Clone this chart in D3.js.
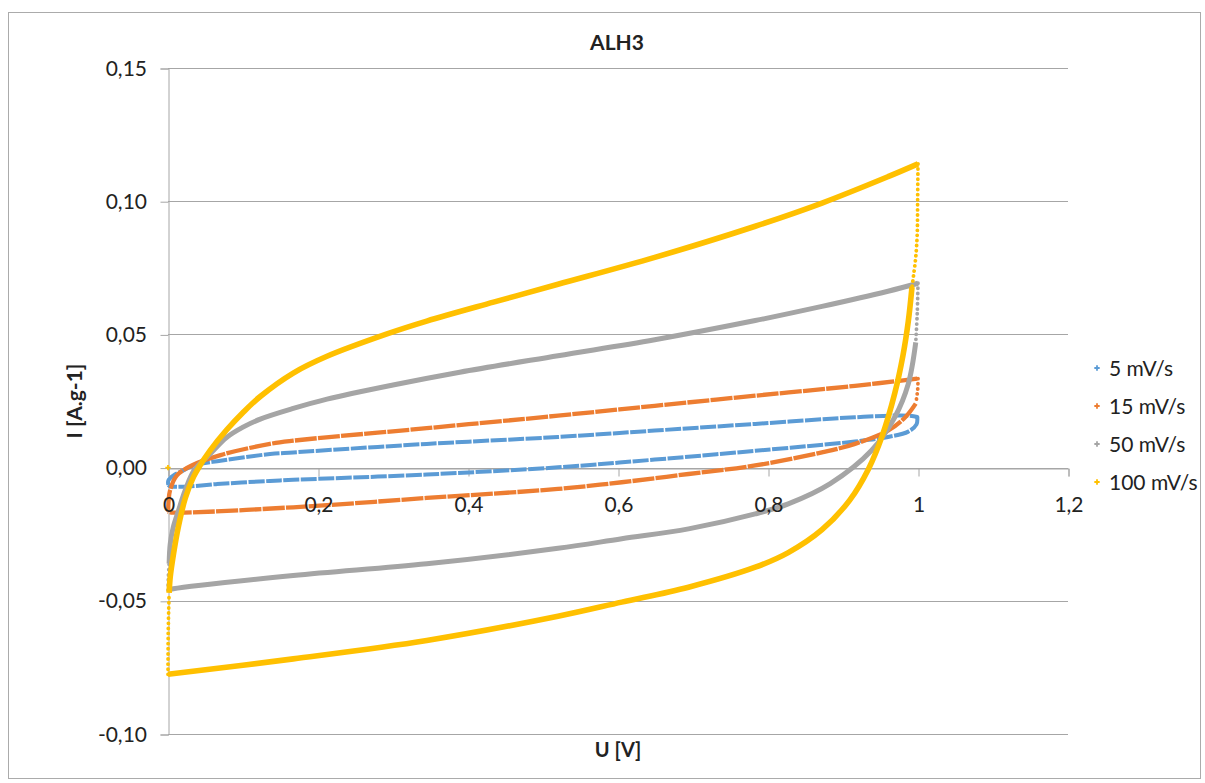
<!DOCTYPE html>
<html>
<head>
<meta charset="utf-8">
<script src="https://cdn.jsdelivr.net/npm/d3@7/dist/d3.min.js"></script>
<style>
  html, body { margin: 0; padding: 0; background: #fff; }
  svg { display: block; font-family: Lato, "Open Sans", sans-serif; }
</style>
</head>
<body>
<svg id="chart" width="1205" height="783"></svg>
<script>
// Cyclic voltammograms of ALH3 at four scan rates: [U (V), I (A/g)]
const seriesNames = ["5 mV/s", "15 mV/s", "50 mV/s", "100 mV/s"];

// 5 mV/s
const fwd5 = [[0.0004, -0.0065], [0.0004, -0.0049], [0.007, -0.003], [0.0204, -0.0011], [0.034, 0.0008],
  [0.07, 0.0026], [0.136, 0.0051], [0.167, 0.0057], [0.345, 0.0089], [0.520, 0.0115], [0.649, 0.0139],
  [0.783, 0.0164], [0.916, 0.0189], [0.987, 0.0195], [0.999, 0.0190]];
const rev5 = [[0.999, 0.0190], [0.998, 0.0162], [0.987, 0.0135], [0.960, 0.0115], [0.916, 0.0098],
  [0.783, 0.0063], [0.649, 0.0030], [0.520, 0.0001], [0.345, -0.0026], [0.167, -0.0046], [0.136, -0.0050],
  [0.065, -0.0062], [0.0204, -0.0072], [0.003, -0.0070], [0.0004, -0.0065]];

// 15 mV/s
const fwd15 = [[0.0003, -0.0165], [0.0008, -0.0124], [0.0027, -0.0086], [0.0116, -0.0030], [0.031, 0.0007],
  [0.070, 0.0047], [0.136, 0.0089], [0.167, 0.0101], [0.345, 0.0148], [0.520, 0.0195], [0.649, 0.0232],
  [0.783, 0.0270], [0.916, 0.0307], [1.0, 0.0334]];
const rev15 = [[0.997, 0.0240], [0.983, 0.0189], [0.960, 0.0139], [0.916, 0.0089], [0.872, 0.0057],
  [0.783, 0.0008], [0.694, -0.0024], [0.605, -0.0055], [0.520, -0.0080], [0.345, -0.0114], [0.167, -0.0149],
  [0.003, -0.0168], [0.0003, -0.0165]];

// 50 mV/s
const fwd50 = [[0.0015, -0.036], [0.003, -0.0286], [0.007, -0.0224], [0.014, -0.0161], [0.023, -0.0085],
  [0.035, -0.0010], [0.056, 0.0051], [0.078, 0.0113], [0.100, 0.0152], [0.123, 0.0182], [0.167, 0.0222],
  [0.212, 0.0257], [0.300, 0.0310], [0.389, 0.0358], [0.520, 0.0420], [0.649, 0.0480], [0.783, 0.0552],
  [0.872, 0.0605], [0.960, 0.0662], [1.0, 0.0692]];
const rev50 = [[0.997, 0.0470], [0.987, 0.0314], [0.969, 0.0189], [0.938, 0.0064], [0.883, -0.0060],
  [0.827, -0.0136], [0.783, -0.0174], [0.694, -0.0230], [0.605, -0.0267], [0.520, -0.0303], [0.345, -0.0361],
  [0.167, -0.0405], [0.007, -0.0455], [0.0, -0.0460]];

// 100 mV/s
const fwd100 = [[0.0015, -0.047], [0.003, -0.041], [0.007, -0.033], [0.014, -0.022], [0.023, -0.0115],
  [0.034, -0.0035], [0.042, 0.0005], [0.056, 0.0064], [0.078, 0.0141], [0.100, 0.0207], [0.123, 0.0267],
  [0.167, 0.0355], [0.212, 0.0418], [0.292, 0.0502], [0.345, 0.0550], [0.434, 0.0621], [0.520, 0.0688],
  [0.649, 0.0789], [0.783, 0.0906], [0.872, 0.0993], [0.960, 0.1092], [1.0, 0.1140]];
const rev100 = [[0.992, 0.0678], [0.987, 0.0548], [0.980, 0.0422], [0.969, 0.0279], [0.952, 0.0117],
  [0.934, -0.0005], [0.909, -0.0122], [0.872, -0.0233], [0.827, -0.0319], [0.783, -0.0374], [0.694, -0.0449],
  [0.605, -0.0505], [0.520, -0.0558], [0.345, -0.0649], [0.167, -0.0718], [0.0, -0.0776]];
const start100 = [[0.0, 0.0]];

// Fast current switching at the vertex potentials (few samples, shown as dots)
const switch15 = [[[1.0, 0.0334], [0.9995, 0.029], [0.997, 0.024]]];
const switch50 = [[[1.0, 0.0692], [0.999, 0.058], [0.997, 0.047]], [[0.0, -0.046], [0.0005, -0.041], [0.0015, -0.036]]];
const switch100 = [[[1.0, 0.1140], [0.9995, 0.100], [0.999, 0.088], [0.997, 0.079], [0.994, 0.072], [0.992, 0.0678]],
  [[0.0, -0.0776], [0.0003, -0.062], [0.0015, -0.047]]];

const xTicks = [0, 0.2, 0.4, 0.6, 0.8, 1.0, 1.2];
const xTickLabels = ["0", "0,2", "0,4", "0,6", "0,8", "1", "1,2"];
const yTicks = [-0.10, -0.05, 0.00, 0.05, 0.10, 0.15];
const yTickLabels = ["-0,10", "-0,05", "0,00", "0,05", "0,10", "0,15"];

const colors = ["#5B9BD5", "#ED7D31", "#A5A5A5", "#FFC000"];
const widths = [4.0, 4.3, 5.0, 5.6];
const dashes = ["16 1.5", "22 1.2", null, null];

const series = [
  { name: seriesNames[0], fwd: fwd5, rev: rev5, sw: [] },
  { name: seriesNames[1], fwd: fwd15, rev: rev15, sw: switch15 },
  { name: seriesNames[2], fwd: fwd50, rev: rev50, sw: switch50 },
  { name: seriesNames[3], fwd: fwd100, rev: rev100, sw: switch100, extra: start100 }
];

const svg = d3.select("#chart");
const plot = { left: 168, right: 1068, top: 68, bottom: 734 };

const x = d3.scaleLinear().domain([0, 1.2]).range([plot.left, plot.right]);
const y = d3.scaleLinear().domain([-0.10, 0.15]).range([plot.bottom, plot.top]);

// chart frame
svg.append("rect").attr("x", 8.5).attr("y", 12.5).attr("width", 1192).attr("height", 766)
  .attr("fill", "#fff").attr("stroke", "#ABABAB").attr("stroke-width", 1);

// horizontal gridlines
svg.append("g").selectAll("line").data(yTicks).join("line")
  .attr("x1", plot.left).attr("x2", plot.right)
  .attr("y1", d => Math.round(y(d)) + 0.5).attr("y2", d => Math.round(y(d)) + 0.5)
  .attr("stroke", "#A6A6A6").attr("stroke-width", 1);

// axis lines and tick marks
const yAxis = d3.axisLeft(y).tickValues(yTicks).tickSize(8).tickFormat((d, i) => yTickLabels[i]);
const xAxis = d3.axisBottom(x).tickValues(xTicks).tickSize(8).tickFormat((d, i) => xTickLabels[i]);

const gy = svg.append("g").attr("transform", `translate(${plot.left + 0.5},0.5)`).call(yAxis);
const gx = svg.append("g").attr("transform", `translate(0.5,${Math.round(y(0)) + 0.5})`).call(xAxis);
[gx, gy].forEach(g => {
  g.select(".domain").attr("stroke", "#A6A6A6");
  g.selectAll(".tick line").attr("stroke", "#A6A6A6");
  g.selectAll(".tick text").remove();
});

// series
const line = d3.line().x(d => x(d[0])).y(d => y(d[1])).curve(d3.curveCatmullRom.alpha(0.5));
const gs = svg.append("g");
series.forEach((s, i) => {
  const g = gs.append("g");
  [s.fwd, s.rev].forEach(arr => {
    g.append("path").attr("d", line(arr)).attr("fill", "none")
      .attr("stroke", colors[i]).attr("stroke-width", widths[i])
      .attr("stroke-dasharray", dashes[i])
      .attr("stroke-linejoin", "round");
  });
  // dense turn at the upper vertex when the switch is well sampled
  if (s.sw.length === 0) {
    g.append("path").attr("d", line([s.fwd[s.fwd.length - 1], s.rev[0]]))
      .attr("stroke", colors[i]).attr("stroke-width", widths[i]).attr("stroke-linecap", "round").attr("fill", "none");
  }
  s.sw.forEach(seg => {
    g.append("path").attr("d", line(seg)).attr("fill", "none")
      .attr("stroke", colors[i]).attr("stroke-width", 3.8)
      .attr("stroke-linecap", "round").attr("stroke-dasharray", "0.1 5");
  });
  if (s.extra) {
    g.selectAll("path.pt").data(s.extra).join("path").attr("class", "pt")
      .attr("transform", d => `translate(${x(d[0])},${y(d[1])})`)
      .attr("d", d3.symbol(d3.symbolCross, 16)).attr("fill", colors[i]);
  }
});

// tick labels
svg.append("g").selectAll("text").data(yTicks).join("text")
  .attr("x", 147).attr("y", d => y(d)).attr("dy", "0.36em")
  .attr("text-anchor", "end").attr("font-size", 21).attr("fill", "#222")
  .text((d, i) => yTickLabels[i]);
svg.append("g").selectAll("text").data(xTicks).join("text")
  .attr("x", d => x(d) + 1).attr("y", 512)
  .attr("text-anchor", "middle").attr("font-size", 21).attr("fill", "#222")
  .text((d, i) => xTickLabels[i]);

// titles
svg.append("text").attr("x", 617).attr("y", 50).attr("text-anchor", "middle")
  .attr("font-size", 21).attr("font-weight", "bold").attr("fill", "#222").text("ALH3");
svg.append("text").attr("x", 618).attr("y", 757).attr("text-anchor", "middle")
  .attr("font-size", 20).attr("font-weight", "bold").attr("fill", "#222").text("U [V]");
svg.append("text").attr("transform", "translate(82,401) rotate(-90)").attr("text-anchor", "middle")
  .attr("font-size", 21).attr("font-weight", "bold").attr("fill", "#222").text("I [A.g-1]");

// legend
const legendY = [368, 406, 444, 482];
const lg = svg.append("g");
series.forEach((s, i) => {
  lg.append("path").attr("transform", `translate(1097,${legendY[i]})`)
    .attr("d", d3.symbol(d3.symbolCross, 16)).attr("fill", colors[i]);
  lg.append("text").attr("x", 1109).attr("y", legendY[i]).attr("dy", "0.36em")
    .attr("font-size", 21).attr("fill", "#222").text(s.name);
});
</script>
</body>
</html>
